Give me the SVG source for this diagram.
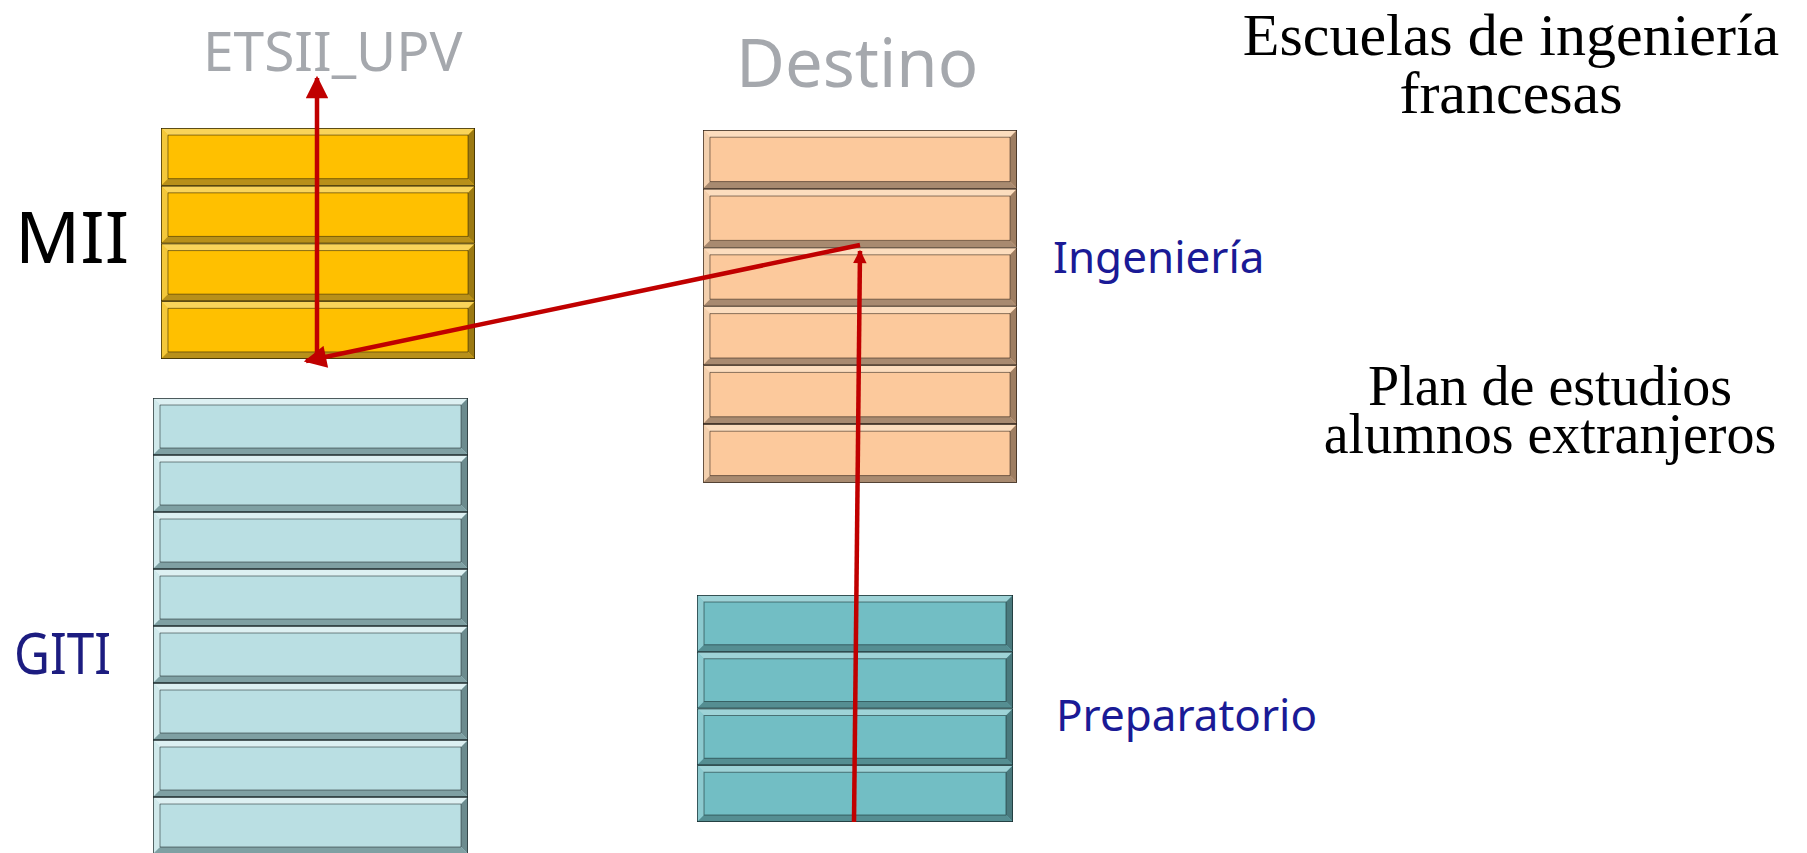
<svg xmlns="http://www.w3.org/2000/svg" xmlns:xlink="http://www.w3.org/1999/xlink" width="1807" height="853" viewBox="0 0 1807 853">
<style>
  .face{fill:var(--face)}
  .lt{fill:var(--lt)} .lt2{fill:var(--lt2)} .dk{fill:var(--dk)} .dk2{fill:var(--dk2)}
  .inner{fill:none;stroke:var(--edge);stroke-width:1;stroke-opacity:0.55}
  .outer{fill:none;stroke:var(--edge);stroke-width:1.4}
  .mii{--face:#FFC000;--lt:#F9D45A;--lt2:#F4C83A;--dk:#9C7A12;--dk2:#B8901A;--edge:#2A2000}
  .dest{--face:#FCC99C;--lt:#FCDDBE;--lt2:#F3D0AE;--dk:#9E7E62;--dk2:#A88A70;--edge:#2A1E14}
  .giti{--face:#BADFE3;--lt:#DDF0F2;--lt2:#D0E9EB;--dk:#6C8B8E;--dk2:#7FA0A3;--edge:#1E2A2C}
  .prep{--face:#72BEC4;--lt:#9ED3D7;--lt2:#8CCACF;--dk:#4A797D;--dk2:#558E92;--edge:#14282A}
  .sans{font-family:"Noto Sans","Open Sans","Liberation Sans",sans-serif}
  .serif{font-family:"Liberation Serif","DejaVu Serif",serif;fill:#000;text-anchor:middle}
  .grey{fill:#A5A8AD}
  .blue{fill:#1A1A96}
  .arrow{stroke:#C00000;stroke-width:4.5;fill:none}
</style>
<defs>
  <symbol id="row" viewBox="0 0 315 57" preserveAspectRatio="none">
    <rect class="face" x="0" y="0" width="315" height="57"/>
    <polygon class="lt" points="0,0 315,0 308,7 7,7"/>
    <polygon class="lt2" points="0,0 7,7 7,50 0,57"/>
    <polygon class="dk" points="315,0 315,57 308,50 308,7"/>
    <polygon class="dk2" points="0,57 315,57 308,50 7,50"/>
    <rect class="inner" x="7" y="7" width="301" height="43" vector-effect="non-scaling-stroke"/>
    <rect class="outer" x="0" y="0" width="315" height="57" vector-effect="non-scaling-stroke"/>
  </symbol>
  <marker id="ah" viewBox="0 0 10 10" refX="9" refY="5" markerWidth="5.5" markerHeight="5" orient="auto" markerUnits="strokeWidth">
    <path d="M0,0 L10,5 L0,10 z" fill="#C00000"/>
  </marker>
  <marker id="ahs" viewBox="0 0 10 10" refX="9" refY="5" markerWidth="3.2" markerHeight="3" orient="auto" markerUnits="strokeWidth">
    <path d="M0,0 L10,5 L0,10 z" fill="#C00000"/>
  </marker>
</defs>

<g id="title">
  <text class="serif" font-size="60"><tspan x="1511" y="55">Escuelas de ingeniería</tspan><tspan x="1511" y="113">francesas</tspan></text>
</g>
<g id="plan">
  <text class="serif" font-size="56"><tspan x="1550" y="405">Plan de estudios</tspan><tspan x="1550" y="453">alumnos extranjeros</tspan></text>
</g>

<g id="label-etsii"><text class="sans grey" x="203" y="71" font-size="55">ETSII_UPV</text></g>
<g id="label-destino"><text class="sans grey" x="736" y="87" font-size="67">Destino</text></g>
<g id="label-mii"><text class="sans" x="15" y="263" font-size="72" fill="#000">MII</text></g>
<g id="label-giti"><text class="sans" x="14" y="674" font-size="56" fill="#1C1C80" textLength="97" lengthAdjust="spacingAndGlyphs">GITI</text></g>
<g id="label-ingenieria"><text class="sans blue" x="1053" y="273" font-size="44">Ingeniería</text></g>
<g id="label-preparatorio"><text class="sans blue" x="1056" y="731" font-size="44">Preparatorio</text></g>

<g id="block-mii" class="mii">
  <use xlink:href="#row" href="#row" x="161" y="128" width="314" height="57.75"/>
  <use xlink:href="#row" href="#row" x="161" y="185.75" width="314" height="57.75"/>
  <use xlink:href="#row" href="#row" x="161" y="243.5" width="314" height="57.75"/>
  <use xlink:href="#row" href="#row" x="161" y="301.25" width="314" height="57.75"/>
</g>

<g id="block-destino" class="dest">
  <use xlink:href="#row" href="#row" x="703" y="130" width="314" height="58.8"/>
  <use xlink:href="#row" href="#row" x="703" y="188.8" width="314" height="58.8"/>
  <use xlink:href="#row" href="#row" x="703" y="247.6" width="314" height="58.8"/>
  <use xlink:href="#row" href="#row" x="703" y="306.4" width="314" height="58.8"/>
  <use xlink:href="#row" href="#row" x="703" y="365.2" width="314" height="58.8"/>
  <use xlink:href="#row" href="#row" x="703" y="424" width="314" height="58.8"/>
</g>

<g id="block-giti" class="giti">
  <use xlink:href="#row" href="#row" x="153" y="398" width="315" height="57"/>
  <use xlink:href="#row" href="#row" x="153" y="455" width="315" height="57"/>
  <use xlink:href="#row" href="#row" x="153" y="512" width="315" height="57"/>
  <use xlink:href="#row" href="#row" x="153" y="569" width="315" height="57"/>
  <use xlink:href="#row" href="#row" x="153" y="626" width="315" height="57"/>
  <use xlink:href="#row" href="#row" x="153" y="683" width="315" height="57"/>
  <use xlink:href="#row" href="#row" x="153" y="740" width="315" height="57"/>
  <use xlink:href="#row" href="#row" x="153" y="797" width="315" height="57"/>
</g>

<g id="block-preparatorio" class="prep">
  <use xlink:href="#row" href="#row" x="697" y="595" width="316" height="56.75"/>
  <use xlink:href="#row" href="#row" x="697" y="651.75" width="316" height="56.75"/>
  <use xlink:href="#row" href="#row" x="697" y="708.5" width="316" height="56.75"/>
  <use xlink:href="#row" href="#row" x="697" y="765.25" width="316" height="56.75"/>
</g>

<g id="connectors">
  <line class="arrow" x1="317" y1="355" x2="317" y2="78" marker-end="url(#ah)"/>
  <line class="arrow" x1="860" y1="245" x2="306" y2="361" marker-end="url(#ah)"/>
  <line class="arrow" x1="854" y1="822" x2="860" y2="251" marker-end="url(#ahs)"/>
</g>
</svg>
